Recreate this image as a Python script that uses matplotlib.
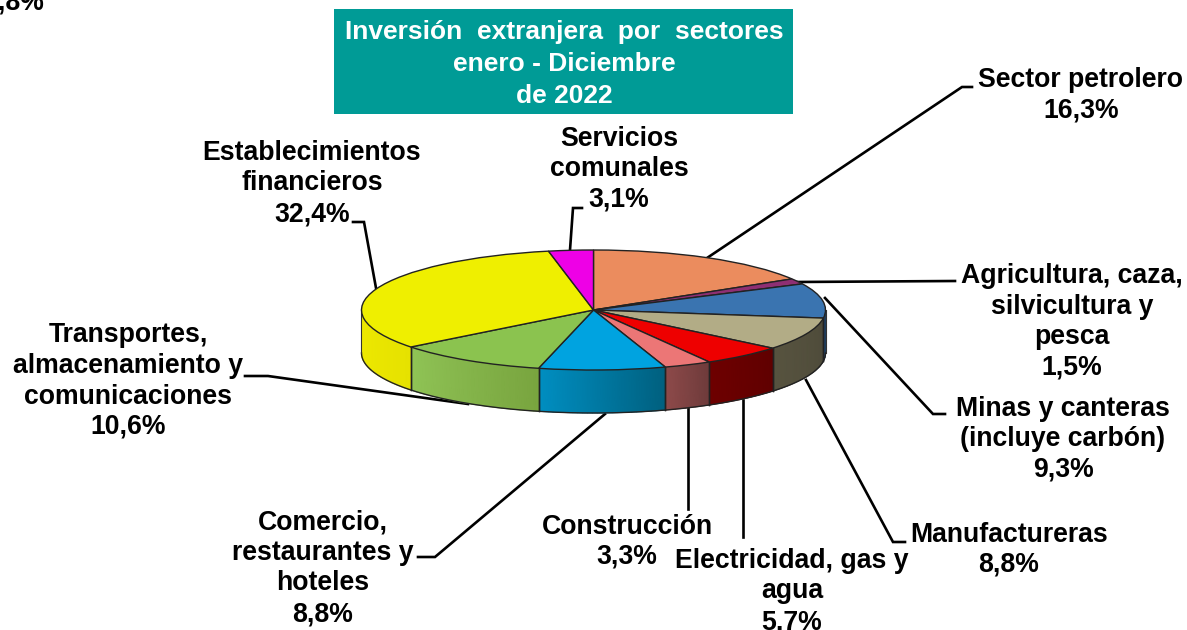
import numpy as np
import matplotlib
matplotlib.use("Agg")
from matplotlib import pyplot as plt
from matplotlib.colors import to_rgb

# datos
sectores = ["Sector petrolero", "Agricultura, caza,\nsilvicultura y\npesca",
            "Minas y canteras\n(incluye carbón)", "Manufactureras",
            "Electricidad, gas y\nagua", "Construcción",
            "Comercio,\nrestaurantes y\nhoteles",
            "Transportes,\nalmacenamiento y\ncomunicaciones",
            "Establecimientos\nfinancieros", "Servicios\ncomunales"]
valores = [16.3, 1.5, 9.3, 8.8, 5.7, 3.3, 8.8, 10.6, 32.4, 3.1]
titulo = "Inversión  extranjera  por  sectores\nenero - Diciembre\nde 2022"

# colores: cara superior y pared (izq, der)
colores = ["#EB8C5E", "#8E2F73", "#3A74B0", "#B2AC86", "#EE0000",
           "#EC7676", "#00A3E0", "#8BC34F", "#EFEF00", "#EE00E6"]
pared_izq = ["#B06A47", "#6B2356", "#2C5784", "#57533F", "#6E0000",
             "#8E4A4A", "#008FC2", "#90C456", "#EFEA00", "#B300AD"]
pared_der = ["#B06A47", "#6B2356", "#1D3A58", "#4E4B3A", "#600000",
             "#6E3B3B", "#00607F", "#79A53F", "#E6E200", "#B300AD"]

# posicion del texto (centro x, y de la primera linea) y lineas guia, en pixeles
pos_texto = [(1081, 79), (1072, 275), (1063, 407.5), (1009, 533.5), (792, 560),
             (627, 525.5), (323, 521.5), (128, 334.5), (312, 152), (619, 137.5)]
guias = [[(707, 258), (962, 87), (972, 87)],
         [(795, 282), (955, 281)],
         [(825, 298), (933, 414), (945, 414)],
         [(806, 380), (893, 542), (905, 542)],
         [(743, 400), (743, 537)],
         [(688, 408), (688, 509)],
         [(605, 414), (435, 557), (418, 557)],
         [(468, 404), (268, 376), (245, 376)],
         [(376, 288), (364, 222), (353, 222)],
         [(570, 250), (573, 208), (582, 208)]]

W, H = 1187, 630
FUENTE = "Liberation Sans"
TAM = 19.2
PASO = 30.5


def main():
    fig = plt.figure(figsize=(W / 100, H / 100), dpi=100)

    # capa de textos en pixeles
    bg = fig.add_axes([0, 0, 1, 1])
    bg.set_xlim(0, W)
    bg.set_ylim(H, 0)
    bg.axis("off")

    # pastel: circulo unidad aplastado a la elipse superior
    cx, cy, rx, ry = 593.5, 310, 232, 60
    ax = fig.add_axes([(cx - rx) / W, 1 - (cy + ry) / H, 2 * rx / W, 2 * ry / H])
    wedges, _ = ax.pie(valores, colors=colores, startangle=90, counterclock=False,
                       radius=1, wedgeprops=dict(edgecolor="#222222", linewidth=1.0))
    ax.set_aspect("auto")
    ax.set_xlim(-1, 1)
    ax.set_ylim(-1, 1)
    ax.axis("off")

    # pared lateral con degradado
    prof = 43 / ry
    bordes = np.cumsum([0] + valores) / sum(valores) * 2 * np.pi
    for i in range(len(valores)):
        a0, a1 = max(bordes[i], np.pi / 2), min(bordes[i + 1], 3 * np.pi / 2)
        if a1 <= a0:
            continue
        # de izquierda a derecha en pantalla: angulo decreciente
        ts = np.linspace(a1, a0, max(int((a1 - a0) / 0.02), 2))
        c0, c1 = np.array(to_rgb(pared_izq[i])), np.array(to_rgb(pared_der[i]))
        f = np.linspace(0, 1, len(ts))[None, :, None]
        colmesh = np.concatenate([c0 + (c1 - c0) * f] * 2, axis=0)
        xs = np.vstack([np.sin(ts), np.sin(ts)])
        ys = np.vstack([np.cos(ts), np.cos(ts) - prof])
        ax.pcolormesh(xs, ys, colmesh, shading="gouraud", clip_on=False, zorder=0)
        for t in (a0, a1):
            if np.pi / 2 < t < 3 * np.pi / 2:
                ax.plot([np.sin(t)] * 2, [np.cos(t), np.cos(t) - prof], color="#222222",
                        lw=1.0, clip_on=False, zorder=0.5)
    ax.set_xlim(-1, 1)
    ax.set_ylim(-1, 1)
    ts = np.linspace(np.pi / 2, 3 * np.pi / 2, 200)
    ax.plot(np.sin(ts), np.cos(ts) - prof, color="#222222", lw=1.0, clip_on=False, zorder=0.5)
    for s in (-1, 1):
        ax.plot([s, s], [0, -prof], color="#333333", lw=0.8, clip_on=False, zorder=0.5)

    # titulo
    bg.fill_between([334, 793], 9, 114, color="#009B96", lw=0)
    for j, linea in enumerate(titulo.split("\n")):
        bg.text(564, 32 + j * 32, linea, color="white", ha="center", va="center",
                family=FUENTE, weight="bold", fontsize=19)

    # lineas guia
    for g in guias:
        g = np.array(g)
        bg.plot(g[:, 0], g[:, 1], color="black", lw=1.9, solid_joinstyle="miter", zorder=3)

    # etiquetas
    for nombre, v, (x, y) in zip(sectores, valores, pos_texto):
        lineas = nombre.split("\n") + [f"{v:.1f}%".replace(".", ",")]
        for j, linea in enumerate(lineas):
            bg.text(x, y + 1 + j * PASO, linea, ha="center", va="center", family=FUENTE,
                    weight="bold", fontsize=TAM, color="black", zorder=4)

    # resto de otra etiqueta, cortada por el borde
    bg.text(44, 2, "8,8%", ha="right", va="center", family=FUENTE, weight="bold",
            fontsize=TAM, color="black")

    fig.savefig("out.png", dpi=100)


if __name__ == "__main__":
    main()
